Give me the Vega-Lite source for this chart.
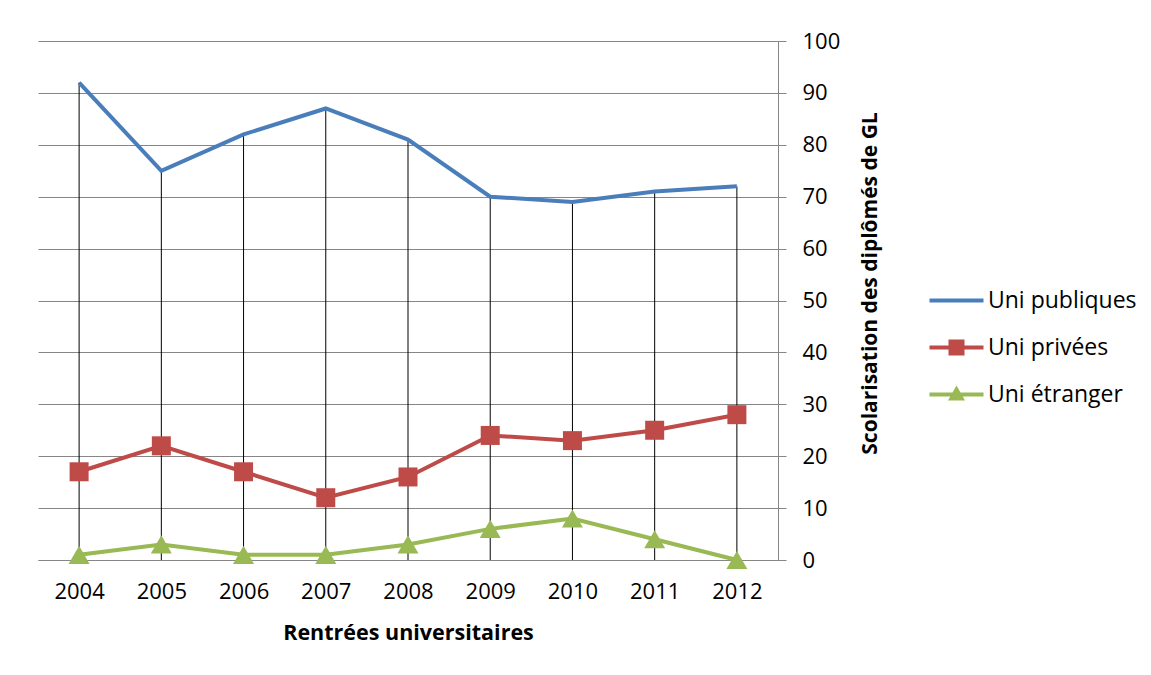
{
  "$schema": "https://vega.github.io/schema/vega-lite/v6.json",
  "width": 740,
  "height": 519,
  "autosize": {"type": "none"},
  "padding": {"left": 38, "top": 41, "right": 373, "bottom": 115},
  "background": "white",
  "config": {
    "view": {"stroke": null},
    "font": "Open Sans",
    "axis": {"labelFont": "Open Sans", "titleFont": "Open Sans", "labelColor": "#000000", "titleColor": "#000000"},
    "legend": {"labelFont": "Open Sans"}
  },
  "data": {
    "values": [
      {"year": "2004", "series": "Uni publiques", "value": 92},
      {"year": "2005", "series": "Uni publiques", "value": 75},
      {"year": "2006", "series": "Uni publiques", "value": 82},
      {"year": "2007", "series": "Uni publiques", "value": 87},
      {"year": "2008", "series": "Uni publiques", "value": 81},
      {"year": "2009", "series": "Uni publiques", "value": 70},
      {"year": "2010", "series": "Uni publiques", "value": 69},
      {"year": "2011", "series": "Uni publiques", "value": 71},
      {"year": "2012", "series": "Uni publiques", "value": 72},
      {"year": "2004", "series": "Uni privées", "value": 17},
      {"year": "2005", "series": "Uni privées", "value": 22},
      {"year": "2006", "series": "Uni privées", "value": 17},
      {"year": "2007", "series": "Uni privées", "value": 12},
      {"year": "2008", "series": "Uni privées", "value": 16},
      {"year": "2009", "series": "Uni privées", "value": 24},
      {"year": "2010", "series": "Uni privées", "value": 23},
      {"year": "2011", "series": "Uni privées", "value": 25},
      {"year": "2012", "series": "Uni privées", "value": 28},
      {"year": "2004", "series": "Uni étranger", "value": 1},
      {"year": "2005", "series": "Uni étranger", "value": 3},
      {"year": "2006", "series": "Uni étranger", "value": 1},
      {"year": "2007", "series": "Uni étranger", "value": 1},
      {"year": "2008", "series": "Uni étranger", "value": 3},
      {"year": "2009", "series": "Uni étranger", "value": 6},
      {"year": "2010", "series": "Uni étranger", "value": 8},
      {"year": "2011", "series": "Uni étranger", "value": 4},
      {"year": "2012", "series": "Uni étranger", "value": 0}
    ]
  },
  "encoding": {
    "x": {
      "field": "year", "type": "ordinal",
      "scale": {"type": "point", "padding": 0.5},
      "axis": {
        "title": "Rentrées universitaires", "titleFontSize": 21.5, "titleFontWeight": "bold", "titlePadding": 20,
        "labelAngle": 0, "labelFontSize": 22, "labelPadding": 21, "ticks": false,
        "domainColor": "#868686", "grid": false
      }
    },
    "y": {
      "field": "value", "type": "quantitative",
      "scale": {"domain": [0, 100], "nice": false},
      "axis": {
        "orient": "right", "values": [0,10,20,30,40,50,60,70,80,90,100],
        "title": "Scolarisation des diplômés de GL", "titleFontSize": 21, "titleFontWeight": "bold",
        "titleAngle": 270, "titlePadding": 41, "titleY": 242,
        "labelFontSize": 22, "labelPadding": 16, "tickSize": 8,
        "tickColor": "#868686", "domainColor": "#868686", "grid": true, "gridColor": "#868686", "gridOpacity": 1
      }
    }
  },
  "layer": [
    {
      "transform": [{"filter": "datum.series === 'Uni publiques'"}],
      "mark": {"type": "rule", "color": "#000000", "strokeWidth": 1},
      "encoding": {"y2": {"datum": 0}}
    },
    {
      "mark": {"type": "line", "strokeWidth": 4},
      "encoding": {
        "color": {
          "field": "series", "type": "nominal",
          "scale": {"domain": ["Uni publiques", "Uni privées", "Uni étranger"], "range": ["#4A7EBB", "#BE4B48", "#98B954"]},
          "legend": {
            "title": null, "orient": "none", "legendX": 907, "legendY": 248, "padding": 0,
            "labelFontSize": 23, "labelColor": "#000000", "labelOffset": 20, "rowPadding": 23,
            "symbolSize": 400,
            "encode": {
              "symbols": {
                "update": {
                  "shape": {"signal": "datum.value === 'Uni publiques' ? 'M-2.7,-0.2H2.7V0.2H-2.7Z' : (datum.value === 'Uni privées' ? 'M-2.7,-0.2H2.7V0.2H-2.7Z M-0.8,-0.8H0.8V0.8H-0.8Z' : 'M-2.7,-0.2H2.7V0.2H-2.7Z M0,-0.9L0.85,0.6H-0.85Z')"},
                  "fill": {"scale": "color", "field": "value"},
                  "stroke": {"value": "transparent"},
                  "strokeWidth": {"value": 0},
                  "opacity": {"value": 1}
                }
              }
            }
          }
        }
      }
    },
    {
      "transform": [{"filter": "datum.series !== 'Uni publiques'"}],
      "mark": {"type": "point", "filled": true, "opacity": 1, "strokeWidth": 0},
      "encoding": {
        "color": {"field": "series", "type": "nominal", "legend": null},
        "shape": {"field": "series", "type": "nominal", "scale": {"domain": ["Uni privées", "Uni étranger"], "range": ["square", "triangle-up"]}, "legend": null},
        "size": {"field": "series", "type": "nominal", "scale": {"domain": ["Uni privées", "Uni étranger"], "range": [361, 440]}, "legend": null}
      }
    }
  ]
}
